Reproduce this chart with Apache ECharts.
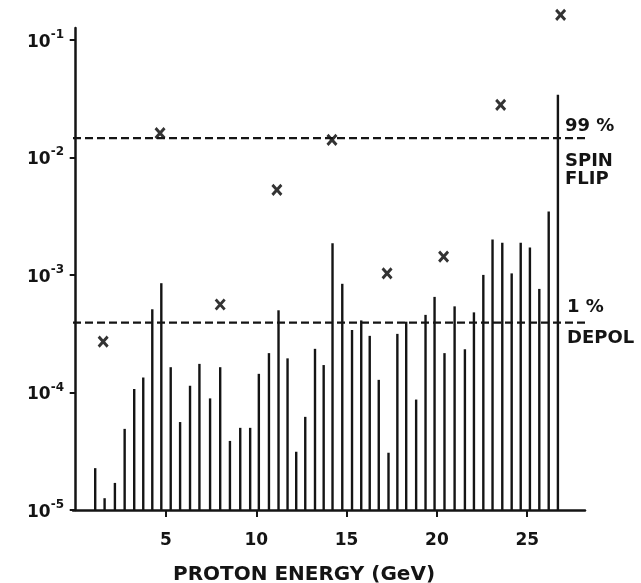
<!DOCTYPE html>
<html>
<head>
<meta charset="utf-8">
<script src="https://cdn.jsdelivr.net/npm/echarts@6/dist/echarts.min.js"></script>
<style>
  html, body { margin: 0; padding: 0; background: #fff; }
  #chart { width: 641px; height: 583px; }
</style>
</head>
<body>
<div id="chart"></div>
<script>
// resonance strengths (vertical lines)
const barEnergy = [1.08, 1.60, 2.17, 2.71, 3.24, 3.74, 4.24, 4.74, 5.26, 5.78,
  6.33, 6.85, 7.44, 8.00, 8.54, 9.11, 9.66, 10.14, 10.70, 11.23,
  11.73, 12.21, 12.71, 13.25, 13.73, 14.22, 14.76, 15.30, 15.81, 16.28,
  16.78, 17.32, 17.81, 18.30, 18.85, 19.37, 19.87, 20.42, 20.98, 21.55,
  22.05, 22.57, 23.08, 23.62, 24.14, 24.64, 25.15, 25.67, 26.19, 26.70]
const barStrength = [2.27e-5, 1.26e-5, 1.70e-5, 4.9e-5, 1.07e-4, 1.34e-4, 5.1e-4, 8.5e-4, 1.64e-4, 5.6e-5,
  1.14e-4, 1.75e-4, 8.9e-5, 1.64e-4, 3.87e-5, 5.0e-5, 5.0e-5, 1.44e-4, 2.16e-4, 5.0e-4,
  1.95e-4, 3.13e-5, 6.2e-5, 2.35e-4, 1.71e-4, 1.86e-3, 8.4e-4, 3.4e-4, 4.1e-4, 3.03e-4,
  1.28e-4, 3.07e-5, 3.15e-4, 4.0e-4, 8.7e-5, 4.57e-4, 6.5e-4, 2.16e-4, 5.4e-4, 2.33e-4,
  4.8e-4, 1.0e-3, 2.0e-3, 1.88e-3, 1.03e-3, 1.88e-3, 1.71e-3, 7.6e-4, 3.46e-3, 3.4e-2]

// x markers
const markEnergy = [1.52, 4.67, 8.0, 11.14, 14.19, 17.24, 20.37, 23.53, 26.85]
const markStrength = [2.7e-4, 1.61e-2, 5.6e-4, 5.3e-3, 1.41e-2, 1.03e-3, 1.43e-3, 2.8e-2, 0.163]

// reference levels
const spinFlipLevel = 1.46e-2
const depolLevel = 3.93e-4

const xTicks = [5, 10, 15, 20, 25]
const yTicks = [1e-5, 1e-4, 1e-3, 1e-2, 1e-1]
const xMin = -0.15
const xMax = 28.2
const yMin = 1e-5

const ink = '#141414'
const font = 'DejaVu Sans'

const chart = echarts.init(document.getElementById('chart'), null, { renderer: 'canvas' })

function levelLine(level, text, offset, lineHeight) {
  return {
    type: 'line',
    silent: true,
    clip: false,
    symbol: 'none',
    data: [[xMin, level], [xMax + 0.15, level]],
    lineStyle: { color: ink, width: 2.2, type: [8, 4] },
    endLabel: {
      show: true,
      formatter: text,
      offset,
      color: ink,
      fontFamily: font,
      fontWeight: 'bold',
      fontSize: 18,
      lineHeight,
      align: 'left',
    },
  }
}

chart.setOption({
  backgroundColor: '#fff',
  animation: false,
  grid: { left: 73, right: 56, top: 28, bottom: 73, outerBoundsMode: 'none' },
  xAxis: {
    type: 'value',
    min: xMin,
    max: xMax,
    name: 'PROTON ENERGY (GeV)',
    nameLocation: 'middle',
    nameGap: 55,
    nameTextStyle: {
      color: ink, fontFamily: font, fontWeight: 'bold', fontSize: 20,
      padding: [0, 50, 0, 0],
    },
    axisLine: { lineStyle: { color: ink, width: 2.5 } },
    axisTick: { customValues: xTicks, length: 7, lineStyle: { color: ink, width: 2 } },
    axisLabel: {
      customValues: xTicks,
      margin: 22,
      color: ink,
      fontFamily: font,
      fontWeight: 'bold',
      fontSize: 17,
    },
    splitLine: { show: false },
  },
  yAxis: {
    type: 'log',
    logBase: 10,
    min: yMin,
    max: 0.126,
    axisLine: { show: true, lineStyle: { color: ink, width: 2.5 } },
    axisTick: { show: true, customValues: yTicks, length: 6, lineStyle: { color: ink, width: 2 } },
    axisLabel: {
      customValues: yTicks,
      margin: 9,
      formatter: v => '{b|10}{s|' + Math.round(Math.log10(v)) + '}',
      rich: {
        b: { color: ink, fontFamily: font, fontWeight: 'bold', fontSize: 17, lineHeight: 22, verticalAlign: 'bottom' },
        s: { color: ink, fontFamily: font, fontWeight: 'bold', fontSize: 12, lineHeight: 22, verticalAlign: 'top' },
      },
    },
    splitLine: { show: false },
  },
  series: [
    {
      type: 'custom',
      data: barEnergy.map((e, i) => [e, barStrength[i]]),
      renderItem: (params, api) => {
        const top = api.coord([api.value(0), api.value(1)])
        const base = api.coord([api.value(0), yMin])
        return {
          type: 'line',
          shape: { x1: top[0], y1: base[1], x2: top[0], y2: top[1] },
          style: { stroke: ink, lineWidth: 2.4 },
        }
      },
    },
    levelLine(spinFlipLevel, '99 %\n\nSPIN\nFLIP', [-30, 15], 17.5),
    levelLine(depolLevel, '1 %\nDEPOL', [-28, 0], 31),
    {
      type: 'scatter',
      clip: false,
      data: markEnergy.map((e, i) => [e, markStrength[i]]),
      symbol: 'path://M0 0L10 12M10 0L0 12',
      symbolSize: [9, 10],
      itemStyle: { color: 'transparent', borderColor: '#000', borderWidth: 3 },
    },
  ],
})
</script>
</body>
</html>
